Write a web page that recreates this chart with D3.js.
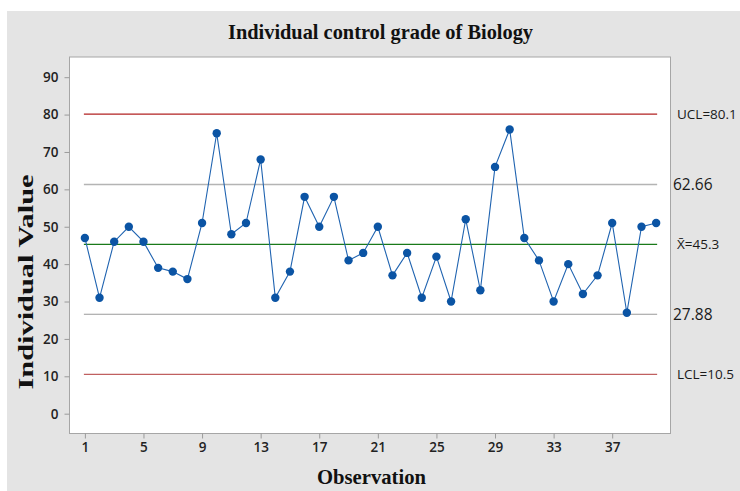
<!DOCTYPE html>
<html>
<head>
<meta charset="utf-8">
<script src="https://cdn.jsdelivr.net/npm/d3@7"></script>
<style>
  body { margin: 0; background: #fff; }
  .tick text { font-family: "Open Sans", "Noto Sans", sans-serif; font-size: 13.5px; font-weight: 600; fill: #222; }
  .tick line { stroke: #9a9a9a; }
  .domain { display: none; }
  .heading { font-family: "Liberation Serif", "Times New Roman", serif; font-weight: bold; font-size: 21px; fill: #111; }
</style>
</head>
<body>
<div id="chart"></div>
<script>
// observation values
const observations = d3.range(1, 41);
const values = [47, 31, 46, 50, 46, 39, 38, 36, 51, 75,
                48, 51, 68, 31, 38, 58, 50, 58, 41, 43,
                50, 37, 43, 31, 42, 30, 52, 33, 66, 76,
                47, 41, 30, 40, 32, 37, 51, 27, 50, 51];
const xTicks = [1, 5, 9, 13, 17, 21, 25, 29, 33, 37];
const yTicks = [0, 10, 20, 30, 40, 50, 60, 70, 80, 90];

// reference lines: value where drawn, label text and colour
const refValues = [80.1, 61.3, 45.3, 26.6, 10.5];
const refLabels = ['UCL=80.1', '62.66', 'X\u0304=45.3', '27.88', 'LCL=10.5'];
const refColors = ['#b22222', '#b4b4b4', '#1a7a1a', '#9a9a9a', '#c06060'];
const refSizes = [13.5, 15.5, 13.5, 15.5, 13.5];

const W = 740, H = 491;
const plot = { left: 69.5, right: 670.5, top: 57, bottom: 433.5 };

const svg = d3.select('#chart').append('svg')
    .attr('width', W)
    .attr('height', H);

svg.append('rect')
    .attr('x', 7).attr('y', 11)
    .attr('width', W - 7).attr('height', H - 11)
    .attr('fill', '#e4e4e4');

svg.append('rect')
    .attr('x', plot.left).attr('y', plot.top)
    .attr('width', plot.right - plot.left)
    .attr('height', plot.bottom - plot.top)
    .attr('fill', '#fff')
    .attr('stroke', '#a6a6a6');

const x = d3.scaleLinear()
    .domain([-0.05, 40.98])
    .range([plot.left, plot.right]);
const y = d3.scaleLinear()
    .domain([-5.3, 95.4])
    .range([plot.bottom, plot.top]);

svg.append('g')
    .attr('transform', `translate(0,${plot.bottom})`)
    .call(d3.axisBottom(x).tickValues(xTicks).tickSize(5).tickPadding(4).tickFormat(d3.format('d')));

svg.append('g')
    .attr('transform', `translate(${plot.left},0)`)
    .call(d3.axisLeft(y).tickValues(yTicks).tickSize(5).tickPadding(6));

// control lines
svg.selectAll('.ref')
    .data(refValues)
    .enter().append('line')
    .attr('class', 'ref')
    .attr('x1', x(1) - 1)
    .attr('x2', x(40) + 1)
    .attr('y1', d => y(d))
    .attr('y2', d => y(d))
    .attr('stroke', (d, i) => refColors[i])
    .attr('stroke-width', (d, i) => i === 1 ? 1.4 : 1.2);

svg.selectAll('.reflabel')
    .data(refValues)
    .enter().append('text')
    .attr('class', 'reflabel')
    .attr('x', (d, i) => refSizes[i] > 14 ? 673 : 677)
    .attr('y', d => y(d))
    .attr('dy', '.35em')
    .attr('font-family', '"Open Sans", "Noto Sans", sans-serif')
    .attr('font-size', (d, i) => refSizes[i])
    .attr('fill', '#1a1a1a')
    .text((d, i) => refLabels[i]);

const line = d3.line()
    .x((d, i) => x(observations[i]))
    .y(d => y(d));

svg.append('path')
    .datum(values)
    .attr('d', line)
    .attr('fill', 'none')
    .attr('stroke', '#1f63b0')
    .attr('stroke-width', 1.1);

svg.selectAll('.pt')
    .data(values)
    .enter().append('circle')
    .attr('class', 'pt')
    .attr('cx', (d, i) => x(observations[i]))
    .attr('cy', d => y(d))
    .attr('r', 4.2)
    .attr('fill', '#0b54a4');

svg.append('text')
    .attr('class', 'heading')
    .attr('x', 380.5)
    .attr('y', 39)
    .attr('text-anchor', 'middle')
    .attr('textLength', 305)
    .attr('lengthAdjust', 'spacingAndGlyphs')
    .text('Individual control grade of Biology');

svg.append('text')
    .attr('class', 'heading')
    .attr('transform', 'rotate(-90)')
    .attr('x', -282)
    .attr('y', 33)
    .attr('text-anchor', 'middle')
    .attr('textLength', 215)
    .attr('lengthAdjust', 'spacingAndGlyphs')
    .text('Individual Value');

svg.append('text')
    .attr('class', 'heading')
    .attr('x', 371.5)
    .attr('y', 484)
    .attr('text-anchor', 'middle')
    .attr('textLength', 109)
    .attr('lengthAdjust', 'spacingAndGlyphs')
    .text('Observation');
</script>
</body>
</html>
